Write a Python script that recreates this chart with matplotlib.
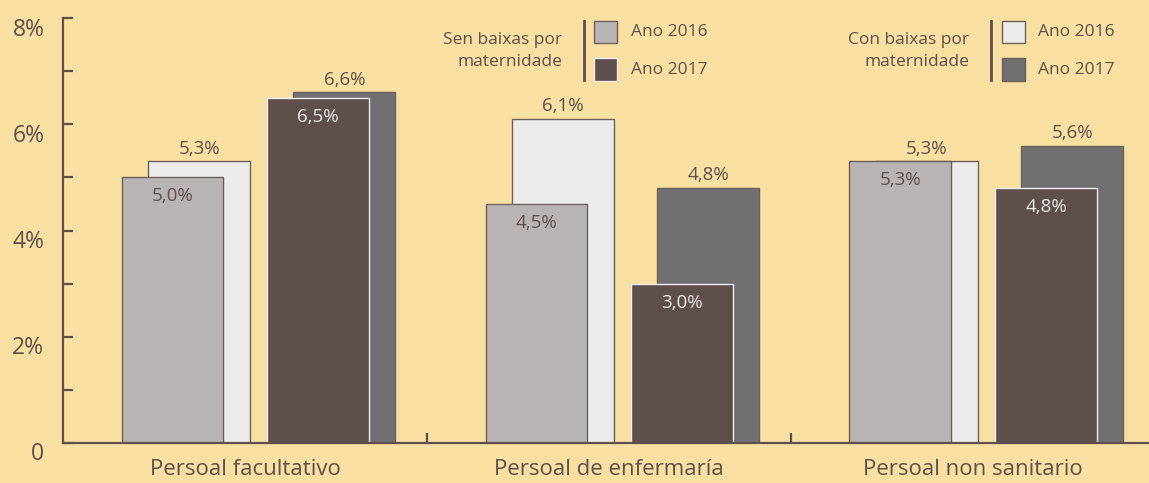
import matplotlib
matplotlib.use("Agg")
import matplotlib.pyplot as plt
import matplotlib.transforms as mtransforms
from matplotlib.patches import Rectangle
from matplotlib.lines import Line2D
import numpy as np

# ---- data ----
categories = ["Persoal facultativo", "Persoal de enfermaría", "Persoal non sanitario"]
sen_2016 = [5.0, 4.5, 5.3]
sen_2017 = [6.5, 3.0, 4.8]
con_2016 = [5.3, 6.1, 5.3]
con_2017 = [6.6, 4.8, 5.6]
sen_2016_lbl = ["5,0%", "4,5%", "5,3%"]
sen_2017_lbl = ["6,5%", "3,0%", "4,8%"]
con_2016_lbl = ["5,3%", "6,1%", "5,3%"]
con_2017_lbl = ["6,6%", "4,8%", "5,6%"]
ytick_vals = [0, 2, 4, 6, 8]
ytick_lbls = ["0", "2%", "4%", "6%", "8%"]
legend_groups = ["Sen baixas por\nmaternidade", "Con baixas por\nmaternidade"]
legend_years = ["Ano 2016", "Ano 2017"]

# ---- style ----
BG = "#F8E0A2"
C_SEN16 = "#B8B4B3"
C_SEN17 = "#5E4F4D"
C_CON16 = "#EBECEA"
C_CON17 = "#707073"
EDGE = "#6E5F5A"
LIGHT_EDGE = "#EDEDED"
TXT = "#5E4F4C"
AX = "#5E4F4C"
FONT = "Open Sans"

plt.rcParams["font.family"] = [FONT, "DejaVu Sans"]

fig = plt.figure(figsize=(11.49, 4.83), dpi=100, facecolor=BG)
ax = fig.add_axes([63/1149, 40/483, 1 - 63/1149, (465-40)/483])
ax.set_facecolor(BG)

x = np.arange(len(categories))
w = 0.28
off_sen16, off_con16, off_sen17, off_con17 = -0.199, -0.126, 0.201, 0.273

b_con16 = ax.bar(x + off_con16, con_2016, w, color=C_CON16, edgecolor=EDGE, linewidth=1, zorder=2)
b_con17 = ax.bar(x + off_con17, con_2017, w, color=C_CON17, edgecolor=EDGE, linewidth=1, zorder=2)
b_sen16 = ax.bar(x + off_sen16, sen_2016, w, color=C_SEN16, edgecolor=EDGE, linewidth=1, zorder=3)
b_sen17 = ax.bar(x + off_sen17, sen_2017, w, color=C_SEN17, edgecolor=LIGHT_EDGE, linewidth=1, zorder=3)

VAL_FS = 13.5

def label_bars(bars, labels, dy, color):
    for rect, lbl in zip(bars, labels):
        ax.annotate(lbl, (rect.get_x() + rect.get_width() / 2, rect.get_height()),
                    xytext=(0, dy), textcoords="offset points", ha="center", va="baseline",
                    fontsize=VAL_FS, color=color, zorder=4)

label_bars(b_con16, con_2016_lbl, 5.5, TXT)
label_bars(b_con17, con_2017_lbl, 5.5, TXT)
label_bars(b_sen16, sen_2016_lbl, -17.3, TXT)
label_bars(b_sen17, sen_2017_lbl, -17.3, LIGHT_EDGE)

ax.set_xlim(-0.5, 2.484)
ax.set_ylim(0, 8)

for s in ["top", "right"]:
    ax.spines[s].set_visible(False)
for s in ["left", "bottom"]:
    ax.spines[s].set_color(AX)
    ax.spines[s].set_linewidth(1.6)
    ax.spines[s].set_zorder(5)

ax.set_yticks(ytick_vals)
ax.set_yticklabels(ytick_lbls)
ax.set_yticks([1, 3, 5, 7], minor=True)
ax.tick_params(axis="y", which="both", direction="in", length=7.5, width=1.6, color=AX,
               labelsize=16.5, labelcolor=TXT, pad=13.5)
offset = mtransforms.ScaledTranslation(0, -0.085, fig.dpi_scale_trans)
for lbl in ax.get_yticklabels():
    lbl.set_transform(lbl.get_transform() + offset)

ax.set_xticks(x)
ax.set_xticklabels(categories)
ax.set_xticks([0.5, 1.5], minor=True)
ax.tick_params(axis="x", which="major", length=0, labelsize=16, labelcolor=TXT, pad=11.5)
ax.tick_params(axis="x", which="minor", direction="in", length=7, width=1.6, color=AX)

# ---- legend (manual) ----
def px2fig(px, py):
    return px / 1149, 1 - py / 483

LEG_FS = 12.5
legend_specs = [
    (legend_groups[0], 562, 584, 594, 631, [(C_SEN16, EDGE), (C_SEN17, LIGHT_EDGE)]),
    (legend_groups[1], 969, 991, 1002, 1038, [(C_CON16, EDGE), (C_CON17, EDGE)]),
]
for title, tx, lx, bx, yx, boxes in legend_specs:
    fx, fy = px2fig(tx, 51)
    fig.text(fx, fy, title, ha="right", va="center", fontsize=LEG_FS, color=TXT,
             linespacing=1.45, multialignment="right")
    x0, y0 = px2fig(lx, 21)
    x1, y1 = px2fig(lx, 80)
    fig.add_artist(Line2D([x0, x1], [y0, y1], color=AX, linewidth=2))
    for (fc, ec), yc, yr in zip(boxes, [32, 69.5], legend_years):
        bx0, by0 = px2fig(bx, yc + 11)
        fig.add_artist(Rectangle((bx0, by0), 23/1149, 22/483, facecolor=fc, edgecolor=ec,
                                 linewidth=1, transform=fig.transFigure))
        tx0, ty0 = px2fig(yx, yc)
        fig.text(tx0, ty0, yr, ha="left", va="center", fontsize=LEG_FS, color=TXT)

fig.savefig("out.png", dpi=100, facecolor=BG)
